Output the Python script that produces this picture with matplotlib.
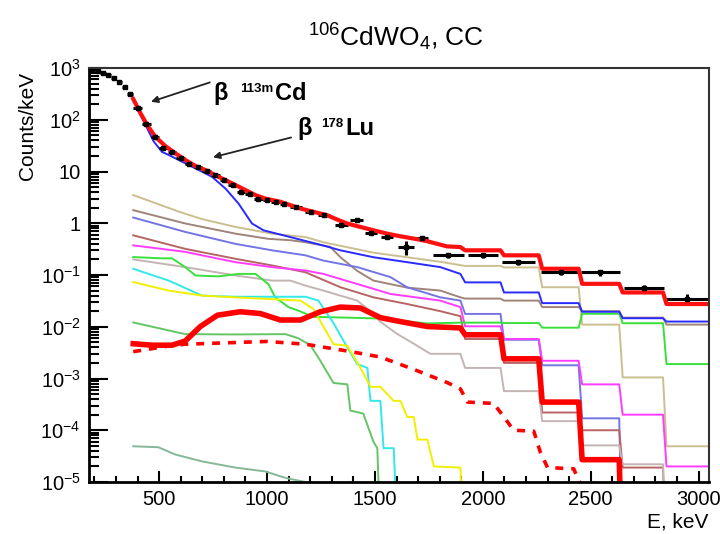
import numpy as np
import matplotlib.pyplot as plt
from matplotlib.ticker import MultipleLocator, LogLocator, FixedLocator, NullFormatter

plt.rcParams['font.family'] = ['Liberation Sans', 'DejaVu Sans']
plt.rcParams['mathtext.fontset'] = 'custom'
plt.rcParams['mathtext.rm'] = 'Liberation Sans'
plt.rcParams['mathtext.bf'] = 'Liberation Sans:bold'

# model bins above ~1.9 MeV (the curves become steps there)
edges = [1910, 2090, 2267, 2452, 2640, 2843, 3050]

# experimental spectrum
data_e = [190, 215, 240, 265, 290, 315, 340, 365, 400, 440, 480, 520, 560, 600, 640, 680,
          720, 760, 800, 840, 880, 920, 960, 1000, 1040, 1080, 1135, 1205, 1265, 1345, 1415,
          1483, 1556, 1642, 1718, 1840, 2000, 2165, 2360, 2545, 2745, 2945]
data_y = [930, 870, 800, 730, 640, 540, 420, 320, 170, 82, 47, 29, 24, 18.5, 14.2, 12.0,
          10.3, 8.4, 6.8, 5.4, 4.0, 3.7, 3.0, 2.8, 2.6, 2.35, 2.05, 1.64, 1.43, 0.91, 1.14,
          0.64, 0.535, 0.342, 0.51, 0.24, 0.24, 0.175, 0.113, 0.112, 0.056, 0.035]
data_dx = [12] * 8 + [20] * 18 + [28, 28, 28, 28, 30, 28, 30, 37, 30, 72, 70, 75, 92, 92, 93, 100]
data_rel = [0.02] * 26 + [0.04, 0.05, 0.05, 0.08, 0.07, 0.08, 0.09, 0.3, 0.09, 0.1, 0.1,
                          0.12, 0.12, 0.13, 0.16, 0.2]

# total fit
tot_e = [380, 413, 444, 482, 529, 575, 621, 668, 714, 760, 807, 853, 899, 946, 992, 1062,
         1108, 1154, 1216, 1278, 1325, 1371, 1432, 1494, 1556, 1618, 1680, 1742, 1788, 1834, 1896]
tot_y = [252, 135, 80, 47, 31, 22.5, 16.7, 12.8, 10.7, 8.5, 6.8, 5.5, 4.4, 3.5, 3.0, 2.6,
         2.24, 1.93, 1.66, 1.43, 1.18, 0.99, 0.85, 0.73, 0.63, 0.56, 0.505, 0.45, 0.40, 0.357, 0.347]
tot_lv = [0.30, 0.24, 0.132, 0.0675, 0.046, 0.0275]

# components
blue_e = [380, 413, 444, 475, 513, 560, 621, 683, 745, 807, 868, 930, 984, 1108, 1262, 1340,
          1494, 1649, 1803, 1896]
blue_y = [250, 125, 69, 38, 24, 19.4, 14.4, 10.7, 7.9, 4.7, 2.4, 0.99, 0.73, 0.54, 0.37, 0.30,
          0.22, 0.177, 0.142, 0.105]
blue_lv = [0.072, 0.046, 0.0286, 0.0195, 0.0146, 0.0126]

tan_e = [380, 598, 700, 853, 1023, 1178, 1261, 1493, 1650, 1803, 1896]
tan_y = [3.5, 1.64, 1.2, 0.85, 0.63, 0.54, 0.43, 0.27, 0.22, 0.18, 0.155]
tan_lv = [0.15, 0.14, 0.058, 0.011, 0.00105, 4.9e-5]

brown_e = [380, 621, 853, 1006, 1108, 1178, 1293, 1340, 1418, 1493, 1650, 1803, 1896]
brown_y = [1.79, 0.99, 0.63, 0.50, 0.47, 0.43, 0.35, 0.22, 0.12, 0.078, 0.057, 0.050, 0.037]
brown_lv = [0.035, 0.032, 0.024, 0.020, 0.015, 0.011]

slate_e = [380, 621, 853, 1023, 1178, 1261, 1418, 1572, 1649, 1803, 1896]
slate_y = [1.29, 0.68, 0.40, 0.30, 0.24, 0.19, 0.142, 0.091, 0.058, 0.037, 0.032]
slate_lv = [0.0177, 0.0056, 0.0018, 1.7e-4, None, None]

ired_e = [380, 621, 853, 1023, 1178, 1340, 1493, 1649, 1803, 1896]
ired_y = [0.585, 0.32, 0.206, 0.153, 0.113, 0.058, 0.037, 0.0275, 0.020, 0.016]
ired_lv = [0.0058, 0.0020, 2.2e-4, 1.0e-4, 1.9e-5, None]

mag_e = [380, 621, 853, 1023, 1178, 1261, 1418, 1572, 1803, 1896]
mag_y = [0.374, 0.28, 0.177, 0.142, 0.122, 0.105, 0.067, 0.043, 0.032, 0.024]
mag_lv = [0.0102, 0.0058, 0.0022, 7.7e-4, 2.0e-4, 2.0e-5]

grey_e = [380, 621, 853, 1023, 1108, 1178, 1261, 1418, 1493, 1520, 1600, 1680, 1757, 1896]
grey_y = [0.20, 0.142, 0.098, 0.078, 0.078, 0.0625, 0.050, 0.032, 0.018, 0.013, 0.0074,
          0.0047, 0.003, 0.003]
grey_lv = [0.0016, 5.7e-4, 1.5e-4, 5.1e-5, 2.2e-5, None]

green_e = [380, 513, 560, 621, 668, 774, 868, 946, 1006, 1038, 1099, 1145, 1215, 1372, 1525,
           1743, 1896]
green_y = [0.222, 0.21, 0.21, 0.142, 0.098, 0.094, 0.105, 0.105, 0.067, 0.037, 0.024, 0.0205,
           0.0155, 0.015, 0.0144, 0.0116, 0.012]
green_lv = [0.012, 0.0118, 0.0096, 0.0178, 0.0117, 0.0019]

cyan_e = [380, 544, 699, 853, 1178, 1238, 1307, 1372, 1418, 1465, 1479, 1525, 1540, 1587, 1604]
cyan_y = [0.132, 0.078, 0.040, 0.038, 0.038, 0.032, 0.0119, 0.0040, 0.0019, 0.0016, 3.7e-4,
          3.7e-4, 4.5e-5, 4.5e-5, 1e-6]

yel_e = [380, 544, 699, 853, 1155, 1215, 1308, 1372, 1433, 1480, 1525, 1587, 1618, 1650, 1680,
         1697, 1743, 1773, 1896, 1910]
yel_y = [0.073, 0.05, 0.040, 0.037, 0.032, 0.022, 0.0046, 0.0043, 0.0016, 6.9e-4, 6.9e-4,
         3.7e-4, 3.7e-4, 1.8e-4, 1.8e-4, 6.6e-5, 6.6e-5, 2.0e-5, 1.9e-5, 1e-6]

mgreen_e = [380, 621, 844, 1085, 1145, 1201, 1247, 1308, 1372, 1386, 1446, 1493, 1511, 1525]
mgreen_y = [0.0121, 0.0072, 0.0071, 0.0072, 0.0060, 0.0044, 0.0022, 8.2e-4, 7.7e-4, 2.4e-4,
            2.1e-4, 6e-5, 4.5e-5, 1e-6]

sgreen_e = [380, 496, 575, 699, 853, 992, 1085, 1178, 1230]
sgreen_y = [4.9e-5, 4.7e-5, 3.4e-5, 2.5e-5, 1.9e-5, 1.6e-5, 1.2e-5, 1.0e-5, 8e-6]

# effect searched for (thick red) and its limit shape (dashed)
eff_e = [380, 467, 560, 621, 691, 770, 876, 969, 1062, 1155, 1247, 1340, 1433, 1525, 1604,
         1743, 1896]
eff_y = [0.0047, 0.0044, 0.0044, 0.0053, 0.0101, 0.0167, 0.0195, 0.018, 0.0135, 0.0135,
         0.0195, 0.024, 0.023, 0.015, 0.0129, 0.0101, 0.0095]
eff_lv = [0.0070, 0.0024, 3.5e-4, 2.7e-5, None, None]

dash_e = [380, 537, 621, 1000, 1178, 1372, 1525, 1680, 1836, 1896, 1929, 2050, 2082, 2143,
          2236, 2267, 2300, 2421, 2439, 2460]
dash_y = [0.0033, 0.0042, 0.0046, 0.0052, 0.0046, 0.0034, 0.0026, 0.0015, 8.3e-4, 6.3e-4,
          3.5e-4, 3.3e-4, 2.2e-4, 1.0e-4, 9.6e-5, 3.7e-5, 1.9e-5, 1.8e-5, 1.2e-5, 8e-6]


def stepped(e, y, levels):
    xs, ys = list(e), list(y)
    for lo, hi, lv in zip(edges[:-1], edges[1:], levels):
        if lv is None:
            xs.append(lo + 8)
            ys.append(1e-7)
            break
        xs += [lo + 8, hi - 8 if hi < edges[-1] else hi]
        ys += [lv, lv]
    return xs, ys


fig = plt.figure(figsize=(7.2, 5.34), dpi=100)
ax = fig.add_axes([89 / 720, 52 / 534, 620 / 720, 414 / 534])

comps = [
    (tan_e, tan_y, tan_lv, '#cbbf8f'),
    (brown_e, brown_y, brown_lv, '#a08478'),
    (slate_e, slate_y, slate_lv, '#7474e4'),
    (ired_e, ired_y, ired_lv, '#b86464'),
    (mag_e, mag_y, mag_lv, '#ff3cff'),
    (grey_e, grey_y, grey_lv, '#c4b4b4'),
    (green_e, green_y, green_lv, '#3ae03a'),
    (blue_e, blue_y, blue_lv, '#2a2aff'),
]
for e, y, lv, c in comps:
    xs, ys = stepped(e, y, lv)
    ax.plot(xs, ys, color=c, lw=1.4)

ax.plot(cyan_e, cyan_y, color='#33e8e8', lw=1.4)
ax.plot(yel_e, yel_y, color='#f2f000', lw=1.4)
ax.plot(mgreen_e, mgreen_y, color='#66c466', lw=1.4)
ax.plot(sgreen_e, sgreen_y, color='#84b898', lw=1.4)

xs, ys = stepped(eff_e, eff_y, eff_lv)
ax.plot(xs, ys, color='#ff0000', lw=4)
ax.plot(dash_e, dash_y, color='#ff0000', lw=2.6, dashes=(2.2, 2.2))

ax.errorbar(data_e, data_y, xerr=data_dx, yerr=np.array(data_y) * np.array(data_rel),
            fmt='s', ms=3.5, color='black', elinewidth=2.2, capsize=0)

xs, ys = stepped(tot_e, tot_y, tot_lv)
ax.plot(xs, ys, color='#ff1010', lw=3)

ax.set_yscale('log')
ax.set_xlim(175, 3048)
ax.set_ylim(1e-5, 1e3)

ax.xaxis.set_major_locator(MultipleLocator(500))
ax.xaxis.set_minor_locator(MultipleLocator(100))
ax.yaxis.set_major_locator(FixedLocator([10.0 ** k for k in range(-5, 4)]))
ax.yaxis.set_minor_locator(LogLocator(base=10, subs=np.arange(2, 10)))
ax.yaxis.set_minor_formatter(NullFormatter())
ylabels = [r'$\mathregular{10^{-5}}$', r'$\mathregular{10^{-4}}$', r'$\mathregular{10^{-3}}$',
           r'$\mathregular{10^{-2}}$', r'$\mathregular{10^{-1}}$', '1', '10',
           r'$\mathregular{10^{2}}$', r'$\mathregular{10^{3}}$']
ax.set_yticklabels(ylabels)
ax.set_xticks([500, 1000, 1500, 2000, 2500, 3000])
ax.set_xticklabels(['500', '1000', '1500', '2000', '2500', '3000'])

ax.tick_params(which='both', direction='in', top=False, right=False, width=1.5, color='black')
ax.tick_params(axis='y', which='major', length=14, labelsize=14.5, pad=6)
ax.tick_params(axis='y', which='minor', length=7)
ax.tick_params(axis='x', which='major', length=8, labelsize=14.5, pad=6)
ax.tick_params(axis='x', which='minor', length=4)
for s in ['left', 'bottom']:
    ax.spines[s].set_linewidth(2)
for s in ['top', 'right']:
    ax.spines[s].set_linewidth(1.5)
    ax.spines[s].set_color('#333333')

# axis titles, ROOT-like placement
fig.text(28 / 720, 1 - 72 / 534, 'Counts/keV', rotation=90, ha='center', va='top', fontsize=15)
fig.text(708 / 720, 1 - 527 / 534, 'E, keV', ha='right', va='baseline', fontsize=15)
fig.text(396 / 720, 1 - 46 / 534, r'$\mathregular{^{106}CdWO_{4}}$, CC', ha='center',
         va='baseline', fontsize=19)

# labels of the beta components
ax.annotate('', xy=(450, 214), xytext=(747, 547),
            arrowprops=dict(arrowstyle='-|>', color='#222222', lw=1.3, mutation_scale=10))
ax.annotate('', xy=(737, 18.3), xytext=(1124, 46.8),
            arrowprops=dict(arrowstyle='-|>', color='#222222', lw=1.3, mutation_scale=10))
fig.text(213 / 720, 1 - 100 / 534, 'β', fontsize=17, fontweight='bold')
fig.text(240 / 720, 1 - 92 / 534, '113m', fontsize=9.5, fontweight='bold')
fig.text(275 / 720, 1 - 100 / 534, 'Cd', fontsize=17, fontweight='bold')
fig.text(297 / 720, 1 - 135 / 534, 'β', fontsize=17, fontweight='bold')
fig.text(321 / 720, 1 - 127 / 534, '178', fontsize=9.5, fontweight='bold')
fig.text(345 / 720, 1 - 135 / 534, 'Lu', fontsize=17, fontweight='bold')

fig.savefig('out.png', dpi=100)
